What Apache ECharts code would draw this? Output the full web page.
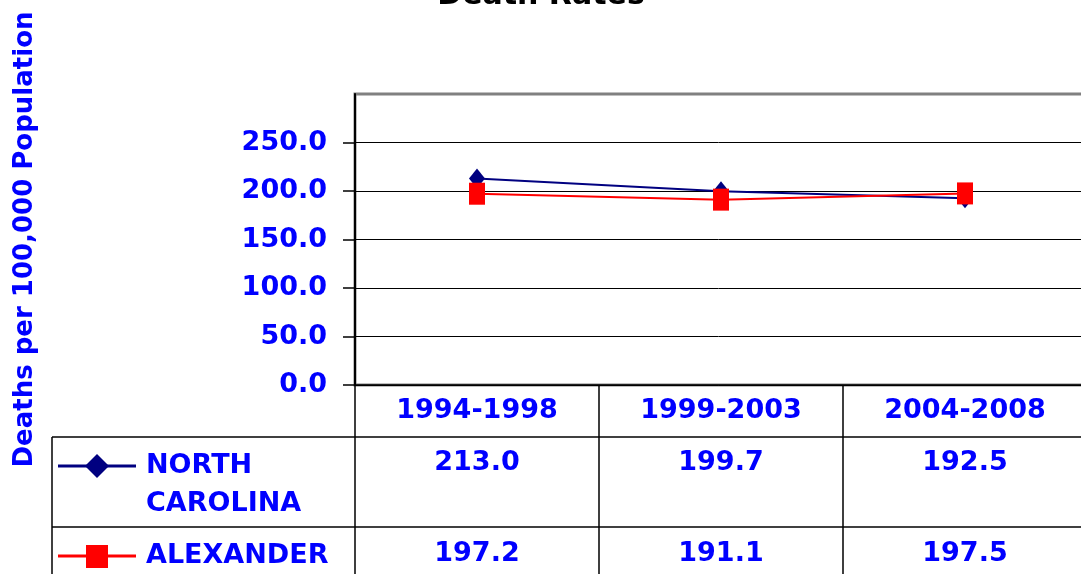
<!DOCTYPE html>
<html>
<head>
<meta charset="utf-8">
<script src="https://cdn.jsdelivr.net/npm/echarts@6/dist/echarts.min.js"></script>
<style>
  html, body { margin: 0; padding: 0; background: #fff; }
  #chart { width: 1081px; height: 574px; }
</style>
</head>
<body>
<div id="chart"></div>
<script>
// Chart data
const periods = ["1994-1998", "1999-2003", "2004-2008"];
const northCarolina = [213.0, 199.7, 192.5];
const alexander = [197.2, 191.1, 197.5];
const seriesNames = ["NORTH\nCAROLINA", "ALEXANDER"];
const yTicks = [0, 50, 100, 150, 200, 250];
const chartTitle = "Death Rates";
const yAxisTitle = "Deaths per 100,000 Population";

const FONT = "DejaVu Sans";
const BLUE = "#0000ff";
const NAVY = "#000080";
const RED = "#ff0000";

const chart = echarts.init(document.getElementById("chart"));

const option = {
  animation: false,
  grid: {
    left: 355,
    top: 94,
    width: 732,
    height: 291,
    outerBoundsMode: "none", // plot runs past the right edge of the frame
    show: true,
    borderColor: "#808080",
    borderWidth: 3,
  },
  xAxis: {
    type: "category",
    data: periods,
    boundaryGap: true,
    axisLine: { lineStyle: { color: "#000", width: 1.5 } },
    axisTick: { show: true, length: 200, lineStyle: { color: "#000", width: 1.5 } },
    axisLabel: {
      margin: 12,
      color: BLUE,
      fontFamily: FONT,
      fontWeight: "bold",
      fontSize: 27,
    },
  },
  yAxis: {
    type: "value",
    min: 0,
    max: 300,
    interval: 50,
    name: yAxisTitle,
    nameLocation: "middle",
    nameRotate: 90,
    nameGap: 317,
    nameTextStyle: {
      color: BLUE,
      fontFamily: FONT,
      fontWeight: "bold",
      fontSize: 26,
    },
    axisLine: { show: true, lineStyle: { color: "#000", width: 2 } },
    axisTick: {
      show: true,
      length: 12,
      customValues: yTicks,
      lineStyle: { color: "#000", width: 1.5 },
    },
    axisLabel: {
      margin: 28,
      customValues: yTicks,
      color: BLUE,
      fontFamily: FONT,
      fontWeight: "bold",
      fontSize: 27,
      formatter: (v) => v.toFixed(1),
    },
    splitLine: {
      show: true,
      lineStyle: {
        // the top line is the plot border, keep it grey
        color: ["#000", "#000", "#000", "#000", "#000", "#000", "#808080"],
        width: 1,
      },
    },
  },
  series: [
    {
      name: seriesNames[0],
      type: "line",
      data: northCarolina,
      symbol: "diamond",
      symbolSize: [16, 20],
      itemStyle: { color: NAVY },
      lineStyle: { color: NAVY, width: 2 },
    },
    {
      name: seriesNames[1],
      type: "line",
      data: alexander,
      symbol: "rect",
      symbolSize: [16, 22],
      itemStyle: { color: RED },
      lineStyle: { color: RED, width: 2 },
    },
  ],
};

chart.setOption(option);

/*
  Data table below the plot, built from the same arrays
*/
function buildTable() {
  const textStyle = (extra) =>
    Object.assign(
      { fill: BLUE, fontFamily: FONT, fontWeight: "bold", fontSize: 27 },
      extra
    );

  const els = [];

  // title, only its lower part shows in the frame
  els.push({
    type: "text",
    x: 541,
    y: 11,
    style: {
      text: chartTitle,
      fill: "#000",
      fontFamily: FONT,
      fontWeight: "bold",
      fontSize: 30,
      align: "center",
      verticalAlign: "bottom",
    },
  });

  // table rules
  const rule = (x1, y1, x2, y2) => ({
    type: "line",
    shape: { x1, y1, x2, y2 },
    style: { stroke: "#000", lineWidth: 1.5 },
  });
  els.push(rule(52, 437, 1081, 437));
  els.push(rule(52, 527, 1081, 527));
  els.push(rule(52, 437, 52, 574));

  const rows = [
    { name: seriesNames[0], values: northCarolina, color: NAVY, keyY: 466, valueY: 463, marker: "diamond" },
    { name: seriesNames[1], values: alexander, color: RED, keyY: 556, valueY: 554, marker: "rect" },
  ];

  rows.forEach((row) => {
    // legend key
    els.push({
      type: "line",
      shape: { x1: 58, y1: row.keyY, x2: 136, y2: row.keyY },
      style: { stroke: row.color, lineWidth: 3 },
    });
    if (row.marker === "diamond") {
      els.push({
        type: "polygon",
        shape: { points: [[97, row.keyY - 12], [109, row.keyY], [97, row.keyY + 12], [85, row.keyY]] },
        style: { fill: row.color },
      });
    } else {
      els.push({
        type: "rect",
        shape: { x: 86, y: row.keyY - 11, width: 22, height: 23 },
        style: { fill: row.color },
      });
    }

    // row label
    els.push({
      type: "text",
      x: 146,
      y: row.keyY - 19,
      style: textStyle({ text: row.name, lineHeight: 38, verticalAlign: "top" }),
    });

    // values under each period
    row.values.forEach((v, i) => {
      const px = chart.convertToPixel({ xAxisIndex: 0 }, periods[i]);
      els.push({
        type: "text",
        x: px,
        y: row.valueY,
        style: textStyle({ text: v.toFixed(1), align: "center", verticalAlign: "middle" }),
      });
    });
  });

  chart.setOption({ graphic: els });
}

buildTable();
</script>
</body>
</html>
